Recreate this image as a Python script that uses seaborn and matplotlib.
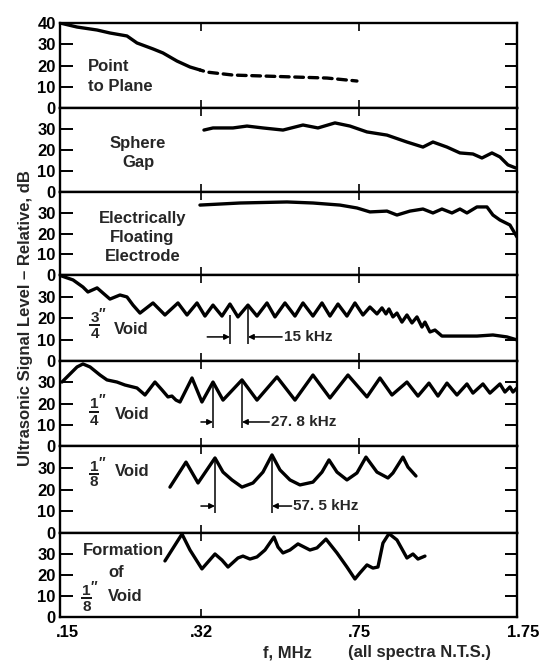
import matplotlib
matplotlib.use("Agg")
import matplotlib.pyplot as plt
import matplotlib.transforms as mtransforms
import seaborn as sns
from matplotlib.ticker import NullLocator

# ---------------- data (f in MHz, level in dB) ----------------
p1_f_solid = [0.150, 0.1644, 0.1831, 0.1962, 0.2150, 0.2269, 0.2473, 0.2609, 0.2813, 0.3017, 0.3183]
p1_db_solid = [40.0, 38.1, 36.7, 35.3, 33.9, 30.6, 27.8, 25.9, 22.1, 19.3, 17.9]
p1_f_dash = [0.3183, 0.3305, 0.3801, 0.4395, 0.5248, 0.6301, 0.7402]
p1_db_dash = [17.9, 16.9, 15.5, 15.1, 14.6, 14.1, 12.7]

p2_f = [0.3252, 0.3414, 0.3801, 0.4099, 0.4466, 0.4974, 0.5538, 0.6003, 0.6577, 0.7129,
        0.7812, 0.8698, 0.9685, 1.0555, 1.1138, 1.2009, 1.2877, 1.3810, 1.4494, 1.5295,
        1.5966, 1.6668, 1.7400]
p2_db = [29.5, 30.5, 30.5, 31.4, 30.5, 29.5, 31.9, 30.5, 32.9, 31.4,
         28.6, 27.1, 23.8, 21.4, 23.8, 21.4, 18.6, 18.1, 16.2, 18.6,
         16.7, 12.9, 11.4]

p3_f = [0.3183, 0.3947, 0.5082, 0.5843, 0.6756, 0.7402, 0.7938, 0.8698, 0.9178, 0.9843,
        1.0555, 1.1138, 1.1690, 1.2336, 1.2877, 1.3371, 1.4110, 1.4889, 1.5377, 1.5966,
        1.6848, 1.7500]
p3_db = [33.7, 34.7, 35.2, 34.7, 33.7, 32.3, 30.4, 30.8, 28.9, 30.8,
         31.8, 29.9, 31.8, 29.9, 31.8, 29.9, 32.8, 32.8, 28.9, 26.5,
         24.1, 18.3]

p4_f = [0.1500, 0.1609, 0.1697, 0.1743, 0.1831, 0.1890, 0.1962, 0.2071, 0.2150, 0.2221,
        0.2306, 0.2473, 0.2637, 0.2828, 0.2969, 0.3133, 0.3270, 0.3414, 0.3583, 0.3740,
        0.3904, 0.4120, 0.4325, 0.4564, 0.4764, 0.5027, 0.5305, 0.5538, 0.5843, 0.6134,
        0.6403, 0.6684, 0.7015, 0.7323, 0.7645, 0.7938, 0.8243, 0.8468, 0.8652, 0.8792,
        0.8983, 0.9178, 0.9428, 0.9685, 0.9949, 1.0221, 1.0498, 1.0669, 1.0960, 1.1259,
        1.1690, 1.2877, 1.4110, 1.5377, 1.6578, 1.7500]
p4_db = [39.8, 37.7, 34.4, 32.1, 34.0, 31.6, 28.8, 30.7, 29.8, 26.0,
         22.3, 27.0, 21.4, 27.0, 21.4, 27.0, 20.9, 26.0, 20.9, 26.5,
         20.5, 26.0, 20.9, 27.0, 20.5, 27.0, 20.9, 27.0, 20.9, 27.0,
         20.9, 26.5, 20.9, 27.0, 21.4, 25.1, 21.9, 24.7, 21.9, 24.2,
         20.5, 22.3, 18.1, 21.4, 17.7, 20.5, 15.8, 18.1, 13.5, 14.4,
         11.6, 11.6, 11.6, 12.1, 11.2, 9.8]

p5_f = [0.1516, 0.1558, 0.1644, 0.1697, 0.1763, 0.1860, 0.1931, 0.2037, 0.2127, 0.2269,
        0.2369, 0.2499, 0.2595, 0.2680, 0.2738, 0.2798, 0.2859, 0.3050, 0.3217, 0.3414,
        0.3603, 0.3990, 0.4325, 0.4816, 0.5305, 0.5843, 0.6403, 0.7053, 0.7812, 0.8377,
        0.8935, 0.9685, 1.0276, 1.0901, 1.1442, 1.2009, 1.2672, 1.3371, 1.3810, 1.4572,
        1.5131, 1.5966, 1.6401, 1.6848, 1.7122, 1.7500]
p5_db = [30.1, 32.5, 37.2, 38.6, 37.2, 33.4, 31.1, 30.1, 28.7, 27.3,
         24.0, 30.1, 26.4, 23.1, 23.5, 21.6, 20.7, 32.0, 20.7, 30.1,
         21.6, 31.1, 21.6, 32.5, 21.6, 33.4, 22.6, 33.4, 23.1, 32.0,
         24.0, 30.1, 23.5, 29.6, 23.5, 29.6, 24.0, 29.2, 24.9, 29.2,
         24.9, 29.2, 25.4, 27.8, 25.4, 27.3]

p6_f = [0.2709, 0.2953, 0.3150, 0.3451, 0.3603, 0.3780, 0.3990, 0.4233, 0.4466, 0.4688,
        0.4894, 0.5164, 0.5449, 0.5843, 0.6134, 0.6369, 0.6649, 0.7015, 0.7402, 0.7770,
        0.8243, 0.8745, 0.8983, 0.9479, 0.9737, 1.0166]
p6_db = [21.1, 32.6, 23.0, 34.5, 28.0, 24.4, 21.1, 23.0, 28.0, 35.9,
         29.0, 24.4, 22.1, 23.4, 28.0, 33.6, 28.0, 24.4, 27.6, 34.9,
         28.0, 25.3, 27.6, 34.9, 30.3, 26.2]

p7_f = [0.2637, 0.2890, 0.3017, 0.3217, 0.3451, 0.3583, 0.3701, 0.3904, 0.4011, 0.4165,
        0.4325, 0.4515, 0.4739, 0.4842, 0.4974, 0.5164, 0.5391, 0.5750, 0.5971, 0.6267,
        0.6649, 0.7015, 0.7323, 0.7523, 0.7812, 0.8067, 0.8287, 0.8513, 0.8792, 0.9178,
        0.9685, 1.0003, 1.0276, 1.0669]
p7_db = [26.7, 39.5, 31.9, 22.9, 30.0, 27.1, 23.8, 28.1, 29.0, 27.6,
         28.6, 31.9, 38.1, 33.3, 30.5, 31.9, 34.8, 31.9, 32.9, 37.1,
         30.5, 23.8, 18.1, 21.0, 24.8, 23.3, 23.8, 35.2, 39.7, 36.7,
         28.1, 30.0, 27.6, 29.0]

# spacing markers (peak-to-peak indicators)
p4_mark_f = [0.3740, 0.4120]
p4_mark_top = [21.4, 26.0]
p4_mark_bot = 7.9
p4_arrow_db = 11.2
p4_label = "15 kHz"

p5_mark_f = [0.3414, 0.3990]
p5_mark_top = [30.1, 31.1]
p5_mark_bot = 8.5
p5_arrow_db = 11.3
p5_label = "27. 8 kHz"

p6_mark_f = [0.3451, 0.4688]
p6_mark_top = [34.5, 35.9]
p6_mark_bot = 9.2
p6_arrow_db = 12.4
p6_label = "57. 5 kHz"

x_ticks = [0.15, 0.32, 0.75, 1.75]
x_ticklabels = [".15", ".32", ".75", "1.75"]

# ---------------- style ----------------
sns.set_theme(style="white")
FONT = ["Liberation Sans", "DejaVu Sans"]
plt.rcParams["font.family"] = FONT
plt.rcParams["font.weight"] = "bold"

W, H = 543, 666
fig, axes = plt.subplots(
    7, 1, figsize=(W / 100, H / 100), dpi=100, sharex=True,
    gridspec_kw=dict(hspace=0, height_ratios=[85, 84, 83, 86, 85, 87, 84]))
fig.subplots_adjust(left=60 / W, right=517 / W, top=1 - 23 / H, bottom=1 - 617 / H)

LW = 2.4
TS = 12  # text size

for i, ax in enumerate(axes):
    ax.set_xscale("log")
    ax.set_xlim(0.15, 1.75)
    ax.set_ylim(0, 40)
    ax.set_facecolor("white")
    for s in ax.spines.values():
        s.set_color("black")
        s.set_linewidth(1.7)
    ax.set_yticks([0, 10, 20, 30, 40] if i == 0 else [0, 10, 20, 30])
    ax.tick_params(axis="y", direction="in", left=True, right=True, length=9,
                   width=1.4, color="black", labelsize=TS, pad=3, labelcolor="black")
    ax.set_xticks(x_ticks)
    ax.xaxis.set_minor_locator(NullLocator())
    ax.tick_params(axis="x", direction="in", top=True, bottom=True, length=6,
                   width=1.2, color="black", labelsize=TS, pad=6, labelcolor="black")
    ax.set_xticklabels(x_ticklabels)
    ax.grid(False)

kw = dict(color="black", lw=LW, sort=False, estimator=None, legend=False,
          solid_joinstyle="round", solid_capstyle="round")
sns.lineplot(x=p1_f_solid, y=p1_db_solid, ax=axes[0], **kw)
kwd = dict(kw)
kwd.pop("solid_capstyle")
sns.lineplot(x=p1_f_dash, y=p1_db_dash, ax=axes[0], linestyle=(1.5, (2.6, 1.7)),
             dash_capstyle="round", **kwd)
sns.lineplot(x=p2_f, y=p2_db, ax=axes[1], **kw)
sns.lineplot(x=p3_f, y=p3_db, ax=axes[2], **kw)
sns.lineplot(x=p4_f, y=p4_db, ax=axes[3], **kw)
sns.lineplot(x=p5_f, y=p5_db, ax=axes[4], **kw)
sns.lineplot(x=p6_f, y=p6_db, ax=axes[5], **kw)
sns.lineplot(x=p7_f, y=p7_db, ax=axes[6], **kw)

for ax in axes:
    ax.set_xlabel("")
    ax.set_ylabel("")
axes[-1].set_xticks(x_ticks)
axes[-1].set_xticklabels(x_ticklabels)
axes[-1].xaxis.set_minor_locator(NullLocator())
# nudge the end labels inward/right a little, as in the original print
for lab, dx in zip(axes[-1].get_xticklabels(), [7, 0, 0, 6]):
    lab.set_transform(lab.get_transform() +
                      mtransforms.ScaledTranslation(dx / 100, 0, fig.dpi_scale_trans))


def spacing(ax, mf, mtop, mbot, ay, label, left_start, right_end):
    for f, t in zip(mf, mtop):
        ax.plot([f, f], [mbot, t], color="black", lw=1.1, solid_capstyle="butt")
    ap = dict(arrowstyle="-|>", lw=1.1, color="black", shrinkA=0, shrinkB=0,
              mutation_scale=8)
    ax.annotate("", xy=(mf[0], ay), xytext=(left_start, ay), arrowprops=ap)
    ax.annotate("", xy=(mf[1], ay), xytext=(right_end, ay), arrowprops=ap)
    ax.text(right_end * 1.01, ay, label, ha="left", va="center", fontsize=TS - 1,
            fontweight="bold")


spacing(axes[3], p4_mark_f, p4_mark_top, p4_mark_bot, p4_arrow_db, p4_label, 0.331, 0.495)
spacing(axes[4], p5_mark_f, p5_mark_top, p5_mark_bot, p5_arrow_db, p5_label, 0.320, 0.462)
spacing(axes[5], p6_mark_f, p6_mark_top, p6_mark_bot, p6_arrow_db, p6_label, 0.320, 0.521)


def tx(ax, x, y, s, ha="left", ls=1.3):
    ax.text(x, y, s, transform=ax.transAxes, ha=ha, va="center", fontsize=TS,
            fontweight="bold", linespacing=ls)


def frac(ax, x, y_num, y_bar, y_den, num, den):
    ax.text(x, y_num, num, transform=ax.transAxes, ha="center", va="center",
            fontsize=TS - 1, fontweight="bold")
    ax.text(x + 0.009, y_num + 0.05, "\u2033", transform=ax.transAxes, ha="left",
            va="center", fontsize=TS - 2, fontweight="bold")
    ax.plot([x - 0.011, x + 0.011], [y_bar, y_bar], transform=ax.transAxes,
            color="black", lw=1.3, solid_capstyle="butt")
    ax.text(x, y_den, den, transform=ax.transAxes, ha="center", va="center",
            fontsize=TS - 1, fontweight="bold")


tx(axes[0], 0.061, 0.37, "Point\nto Plane", ls=1.45)
tx(axes[1], 0.171, 0.46, "Sphere\nGap", ha="center", ls=1.35)
tx(axes[2], 0.18, 0.45, "Electrically\nFloating\nElectrode", ha="center", ls=1.35)
frac(axes[3], 0.0755, 0.50, 0.415, 0.315, "3", "4")
tx(axes[3], 0.118, 0.37, "Void")
frac(axes[4], 0.074, 0.49, 0.405, 0.30, "1", "4")
tx(axes[4], 0.12, 0.37, "Void")
frac(axes[5], 0.074, 0.76, 0.68, 0.59, "1", "8")
tx(axes[5], 0.12, 0.71, "Void")
tx(axes[6], 0.05, 0.79, "Formation")
tx(axes[6], 0.105, 0.53, "of")
frac(axes[6], 0.058, 0.31, 0.225, 0.12, "1", "8")
tx(axes[6], 0.105, 0.24, "Void")

fig.text(26 / W, 1 - 318 / H, "Ultrasonic Signal Level \u2013 Relative, dB", rotation=90,
         ha="center", va="center", fontsize=TS, fontweight="bold")
fig.text(287 / W, 1 - 653 / H, "f, MHz", ha="center", va="center", fontsize=TS,
         fontweight="bold")
fig.text(420 / W, 1 - 653 / H, "(all spectra N.T.S.)", ha="center", va="center",
         fontsize=TS, fontweight="bold")

fig.savefig("out.png", dpi=100, facecolor="white")
